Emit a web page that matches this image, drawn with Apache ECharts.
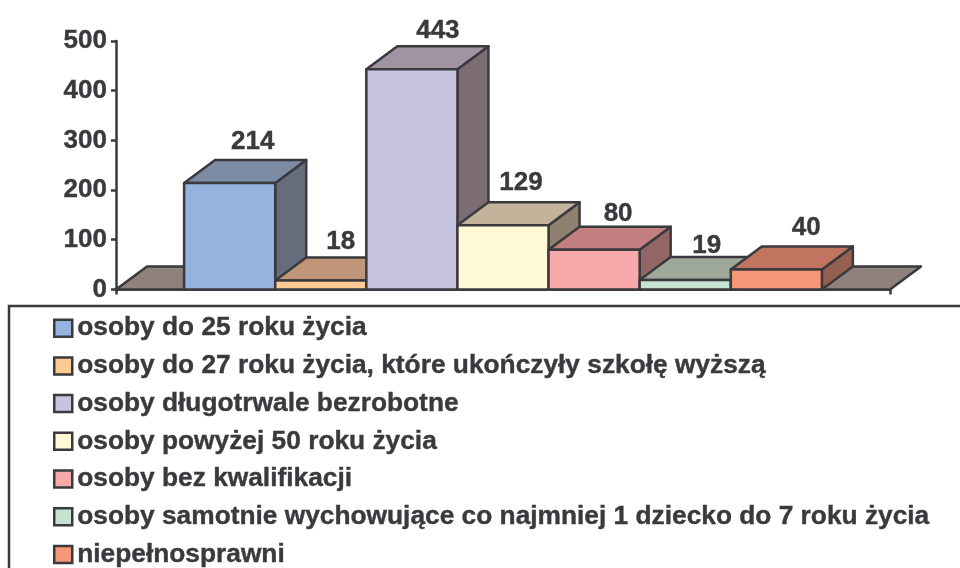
<!DOCTYPE html>
<html>
<head>
<meta charset="utf-8">
<style>
  html,body{margin:0;padding:0;background:#fff;}
  #chart{width:960px;height:568px;}
</style>
<script src="https://cdn.jsdelivr.net/npm/echarts@6/dist/echarts.min.js"></script>
</head>
<body>
<div id="chart"></div>
<script>
  // dane
  const names = [
    'osoby do 25 roku życia',
    'osoby do 27 roku życia, które ukończyły szkołę wyższą',
    'osoby długotrwale bezrobotne',
    'osoby powyżej 50 roku życia',
    'osoby bez kwalifikacji',
    'osoby samotnie wychowujące co najmniej 1 dziecko do 7 roku życia',
    'niepełnosprawni'
  ]
  const values = [214, 18, 443, 129, 80, 19, 40]
  const yTicks = [0, 100, 200, 300, 400, 500]

  // kolory scian
  const frontColors = ['#95b3de', '#fdcb94', '#c7c4e1', '#fff9d6', '#f7a9ab', '#c5e3d0', '#f59677']
  const topColors = ['#7c8ca5', '#c19577', '#a093a4', '#c2b39a', '#c27f80', '#9ea99a', '#c17460']
  const sideColors = ['#656d7c', '#93735f', '#7c6d75', '#8f816f', '#936564', '#7a8378', '#955f52']
  const floorColor = '#8f817c'
  const ink = '#3a3a3e'
  const fontName = '"Liberation Sans", Arial, sans-serif'

  // przesuniecia etykiet wzgledem tylnej krawedzi slupka
  const labelDx = [-8, -11, -5, -13, -7, -9.5, -1]
  const labelDy = [-18, -16, -15, -19, -13, -11, -19]

  const depthX = 31
  const depthY = 23
  const gapRatio = 0.176
  const lineW = 2.5

  function face(points, color) {
    return {
      type: 'polygon',
      shape: {points: points},
      style: {fill: color, stroke: ink, lineWidth: lineW, lineJoin: 'round'}
    }
  }

  function barItem(i) {
    return function (params, api) {
      let band = api.size([1, 0])[0]
      let w = band * (1 - gapRatio) / names.length
      let base = api.coord([0, 0])
      let top = api.coord([0, api.value(1)])
      let x0 = base[0] - band * (1 - gapRatio) / 2 + w * i
      let x1 = x0 + w
      return {
        type: 'group',
        children: [
          face([[x1, base[1]], [x1 + depthX, base[1] - depthY], [x1 + depthX, top[1] - depthY], [x1, top[1]]], sideColors[i]),
          face([[x0, top[1]], [x0 + depthX, top[1] - depthY], [x1 + depthX, top[1] - depthY], [x1, top[1]]], topColors[i]),
          face([[x0, base[1]], [x0, top[1]], [x1, top[1]], [x1, base[1]]], frontColors[i]),
          {
            type: 'text',
            style: {
              text: String(values[i]),
              x: (x0 + x1) / 2 + depthX + labelDx[i],
              y: top[1] - depthY + labelDy[i],
              align: 'center',
              verticalAlign: 'middle',
              fill: ink,
              stroke: ink,
              lineWidth: 0.4,
              font: 'bold 26px ' + fontName
            }
          }
        ]
      }
    }
  }

  function floorItem(params, api) {
    let band = api.size([1, 0])[0]
    let base = api.coord([0, 0])
    let x0 = base[0] - band / 2
    let x1 = base[0] + band / 2
    return face([[x0, base[1]], [x0 + depthX, base[1] - depthY], [x1 + depthX, base[1] - depthY], [x1, base[1]]], floorColor)
  }

  let series = [{
    type: 'custom',
    name: 'podloga',
    silent: true,
    z: 1,
    renderItem: floorItem,
    data: [[0, 0]]
  }]
  names.forEach(function (name, i) {
    series.push({
      type: 'custom',
      name: name,
      z: 2 + i,
      renderItem: barItem(i),
      itemStyle: {color: frontColors[i]},
      encode: {x: 0, y: 1},
      data: [[0, values[i]]]
    })
  })

  let myChart = echarts.init(document.getElementById('chart'), null, {renderer: 'canvas'})
  let option = {
    animation: false,
    backgroundColor: '#fff',
    grid: {left: 116, width: 774, top: 41, height: 248.4},
    legend: {
      data: names,
      orient: 'vertical',
      left: 9,
      top: 306,
      height: 400,
      padding: [9, 400, 200, 44],
      borderColor: ink,
      borderWidth: 2.5,
      itemWidth: 18,
      itemHeight: 17,
      itemGap: 11.3,
      icon: 'rect',
      selectedMode: false,
      itemStyle: {borderColor: ink, borderWidth: 2.5},
      textStyle: {color: ink, fontWeight: 'bold', fontFamily: fontName, fontSize: 26.3, lineHeight: 26, textBorderColor: ink, textBorderWidth: 0.4}
    },
    xAxis: {
      type: 'category',
      data: [''],
      axisLine: {lineStyle: {color: ink, width: 2.5}},
      axisTick: {show: true, length: 5, lineStyle: {color: ink, width: 2.5}},
      axisLabel: {show: false}
    },
    yAxis: {
      type: 'value',
      min: yTicks[0],
      max: yTicks[yTicks.length - 1],
      interval: 100,
      splitLine: {show: false},
      axisLine: {show: true, lineStyle: {color: ink, width: 2.5}},
      axisTick: {show: true, length: 5, lineStyle: {color: ink, width: 2.5}},
      axisLabel: {color: ink, fontWeight: 'bold', fontFamily: fontName, fontSize: 26, margin: 9, textBorderColor: ink, textBorderWidth: 0.4}
    },
    series: series
  }
  myChart.setOption(option)
</script>
</body>
</html>
